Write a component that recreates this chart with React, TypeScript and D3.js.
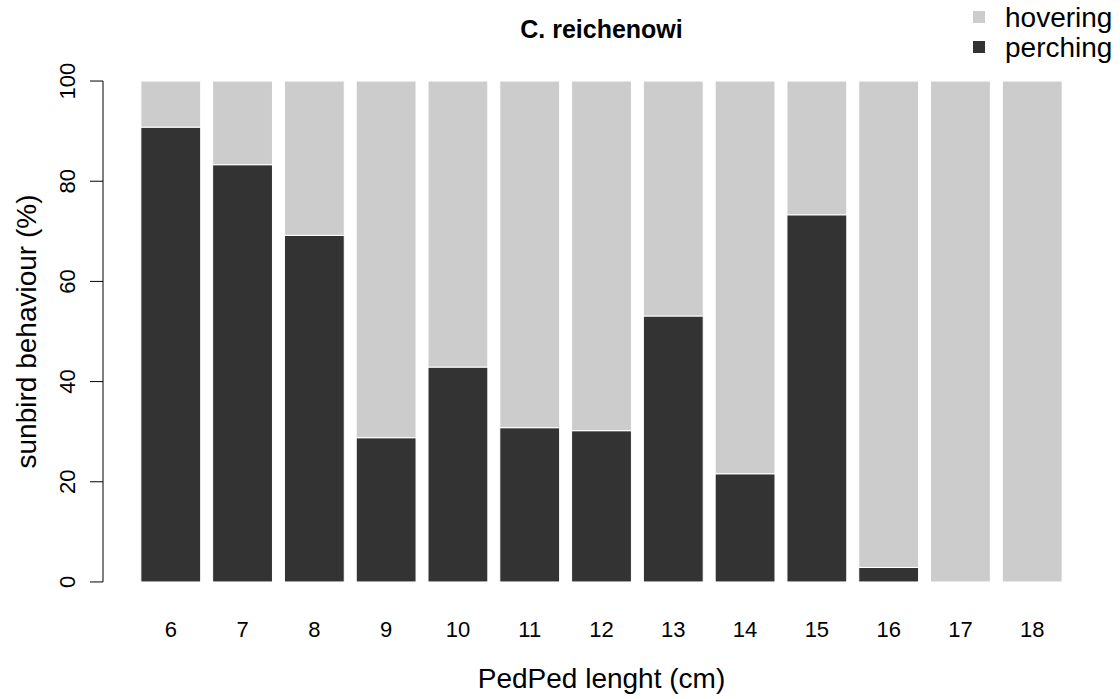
import React, { useEffect, useRef } from 'react';
import * as d3 from 'd3';

const lengths = ['6', '7', '8', '9', '10', '11', '12', '13', '14', '15', '16', '17', '18'];
const perching = [90.8, 83.3, 69.2, 28.8, 42.9, 30.8, 30.2, 53.1, 21.6, 73.3, 2.9, 0, 0];
const hovering = perching.map(p => 100 - p);
const yTicks = [0, 20, 40, 60, 80, 100];
const seriesNames = ['hovering', 'perching'];
const seriesColors = ['#cccccc', '#333333'];

const App = () => {
  const ref = useRef<SVGSVGElement>(null);

  useEffect(() => {
    const width = 1120, height = 699;
    const plot = { left: 104, right: 1099, top: 61, bottom: 602 };
    const font = 'Liberation Sans, Arial, sans-serif';

    const svg = d3.select(ref.current);
    svg.selectAll('*').remove();
    svg.attr('width', width).attr('height', height);

    // barplot-style units: width 1, space 0.2, 4% padding
    const n = lengths.length;
    const uMin = 0.2, uMax = 1.2 * n;
    const pad = (uMax - uMin) * 0.04;
    const x = d3.scaleLinear().domain([uMin - pad, uMax + pad]).range([plot.left, plot.right]);
    const y = d3.scaleLinear().domain([-4, 104]).range([plot.bottom, plot.top]);

    const g = svg.append('g');

    lengths.forEach((len, i) => {
      const l = 0.2 + 1.2 * i;
      const r = l + 1;
      const p = perching[i];
      const h = hovering[i];
      // perching on bottom
      g.append('rect')
        .attr('x', x(l)).attr('width', x(r) - x(l))
        .attr('y', y(p)).attr('height', y(0) - y(p))
        .attr('fill', seriesColors[1])
        .attr('stroke', '#ffffff').attr('stroke-width', 1);
      g.append('rect')
        .attr('x', x(l)).attr('width', x(r) - x(l))
        .attr('y', y(p + h)).attr('height', y(p) - y(p + h))
        .attr('fill', seriesColors[0])
        .attr('stroke', '#ffffff').attr('stroke-width', 1);

      g.append('text')
        .attr('x', x(l + 0.5)).attr('y', 637)
        .attr('text-anchor', 'middle')
        .style('font-family', font).style('font-size', '22px')
        .text(len);
    });

    // y axis
    const axisX = plot.left - 1;
    g.append('line')
      .attr('x1', axisX).attr('x2', axisX)
      .attr('y1', y(0)).attr('y2', y(100))
      .attr('stroke', '#000');
    yTicks.forEach(t => {
      g.append('line')
        .attr('x1', axisX - 13).attr('x2', axisX)
        .attr('y1', y(t)).attr('y2', y(t))
        .attr('stroke', '#000');
      g.append('text')
        .attr('transform', `translate(75, ${y(t)}) rotate(-90)`)
        .attr('text-anchor', 'middle')
        .style('font-family', font).style('font-size', '22px')
        .text(t);
    });

    // titles
    g.append('text')
      .attr('x', (plot.left + plot.right) / 2).attr('y', 38)
      .attr('text-anchor', 'middle')
      .style('font-family', font).style('font-size', '25px').style('font-weight', 'bold')
      .text('C. reichenowi');

    g.append('text')
      .attr('x', (plot.left + plot.right) / 2).attr('y', 688)
      .attr('text-anchor', 'middle')
      .style('font-family', font).style('font-size', '28px')
      .text('PedPed lenght (cm)');

    g.append('text')
      .attr('transform', `translate(36, ${(plot.top + plot.bottom) / 2}) rotate(-90)`)
      .attr('text-anchor', 'middle')
      .style('font-family', font).style('font-size', '28px')
      .text('sunbird behaviour (%)');

    // legend
    seriesNames.forEach((name, i) => {
      const cy = 17 + i * 30;
      g.append('rect')
        .attr('x', 973).attr('y', cy - 6)
        .attr('width', 12).attr('height', 12)
        .attr('fill', seriesColors[i]);
      g.append('text')
        .attr('x', 1005).attr('y', cy + 10)
        .style('font-family', font).style('font-size', '28px')
        .text(name);
    });
  }, []);

  return (
    <div style={{ position: 'absolute', left: 0, top: 0 }}>
      <svg ref={ref}></svg>
    </div>
  );
};

export default App;
